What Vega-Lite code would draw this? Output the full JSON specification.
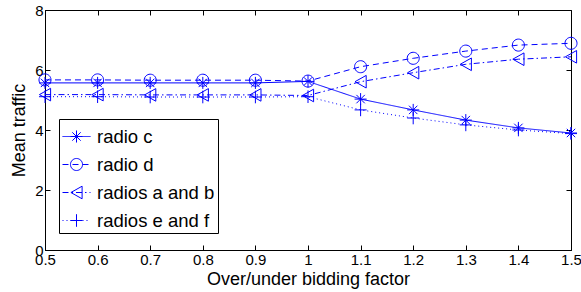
{
  "$schema": "https://vega.github.io/schema/vega-lite/v6.json",
  "width": 526,
  "height": 240,
  "autosize": "none",
  "padding": {"left": 45, "top": 10, "right": 10, "bottom": 42},
  "background": "white",
  "config": {
    "font": "Liberation Sans",
    "view": {"stroke": "black", "strokeWidth": 1},
    "axis": {
      "grid": false,
      "domainColor": "black",
      "tickColor": "black",
      "labelColor": "black",
      "titleColor": "black",
      "labelFont": "Liberation Sans",
      "titleFont": "Liberation Sans",
      "labelFontSize": 15,
      "titleFontSize": 18,
      "titleFontWeight": "normal",
      "tickSize": -5
    }
  },
  "data": {
    "values": [
      {"x": 0.5, "series": "radio c", "y": 5.57},
      {"x": 0.6, "series": "radio c", "y": 5.57},
      {"x": 0.7, "series": "radio c", "y": 5.57},
      {"x": 0.8, "series": "radio c", "y": 5.57},
      {"x": 0.9, "series": "radio c", "y": 5.57},
      {"x": 1.0, "series": "radio c", "y": 5.62},
      {"x": 1.1, "series": "radio c", "y": 5.03},
      {"x": 1.2, "series": "radio c", "y": 4.67},
      {"x": 1.3, "series": "radio c", "y": 4.33},
      {"x": 1.4, "series": "radio c", "y": 4.07},
      {"x": 1.5, "series": "radio c", "y": 3.9},
      {"x": 0.5, "series": "radio d", "y": 5.67},
      {"x": 0.6, "series": "radio d", "y": 5.67},
      {"x": 0.7, "series": "radio d", "y": 5.66},
      {"x": 0.8, "series": "radio d", "y": 5.66},
      {"x": 0.9, "series": "radio d", "y": 5.66},
      {"x": 1.0, "series": "radio d", "y": 5.63},
      {"x": 1.1, "series": "radio d", "y": 6.11},
      {"x": 1.2, "series": "radio d", "y": 6.39},
      {"x": 1.3, "series": "radio d", "y": 6.63},
      {"x": 1.4, "series": "radio d", "y": 6.83},
      {"x": 1.5, "series": "radio d", "y": 6.89},
      {"x": 0.5, "series": "radios a and b", "y": 5.18},
      {"x": 0.6, "series": "radios a and b", "y": 5.18},
      {"x": 0.7, "series": "radios a and b", "y": 5.17},
      {"x": 0.8, "series": "radios a and b", "y": 5.17},
      {"x": 0.9, "series": "radios a and b", "y": 5.17},
      {"x": 1.0, "series": "radios a and b", "y": 5.15},
      {"x": 1.1, "series": "radios a and b", "y": 5.61},
      {"x": 1.2, "series": "radios a and b", "y": 5.91},
      {"x": 1.3, "series": "radios a and b", "y": 6.19},
      {"x": 1.4, "series": "radios a and b", "y": 6.36},
      {"x": 1.5, "series": "radios a and b", "y": 6.44},
      {"x": 0.5, "series": "radios e and f", "y": 5.11},
      {"x": 0.6, "series": "radios e and f", "y": 5.11},
      {"x": 0.7, "series": "radios e and f", "y": 5.1},
      {"x": 0.8, "series": "radios e and f", "y": 5.1},
      {"x": 0.9, "series": "radios e and f", "y": 5.1},
      {"x": 1.0, "series": "radios e and f", "y": 5.11},
      {"x": 1.1, "series": "radios e and f", "y": 4.67},
      {"x": 1.2, "series": "radios e and f", "y": 4.4},
      {"x": 1.3, "series": "radios e and f", "y": 4.17},
      {"x": 1.4, "series": "radios e and f", "y": 4.0},
      {"x": 1.5, "series": "radios e and f", "y": 3.88}
    ]
  },
  "layer": [
    {
      "mark": {"type": "line", "color": "#0000ff", "strokeWidth": 1},
      "encoding": {
        "x": {
          "field": "x", "type": "quantitative",
          "scale": {"domain": [0.5, 1.5], "nice": false, "zero": false},
          "axis": {"values": [0.5, 0.6, 0.7, 0.8, 0.9, 1.0, 1.1, 1.2, 1.3, 1.4, 1.5], "format": "~g", "labelPadding": 7, "labelFlush": false, "title": "Over/under bidding factor", "titlePadding": 3}
        },
        "y": {
          "field": "y", "type": "quantitative",
          "scale": {"domain": [0, 8], "nice": false},
          "axis": {"values": [0, 2, 4, 6, 8], "labelPadding": 7, "title": "Mean traffic", "titlePadding": 6}
        },
        "detail": {"field": "series"},
        "strokeDash": {
          "field": "series", "type": "nominal",
          "scale": {"range": [[1, 0], [6, 4], [6, 3, 1.5, 3], [1, 3]]},
          "legend": {
            "orient": "none", "legendX": 14, "legendY": 109,
            "title": null, "symbolType": "stroke", "symbolSize": 784,
            "symbolStrokeWidth": 1, "symbolStrokeColor": "#0000ff",
            "labelFontSize": 18.5, "labelFont": "Liberation Sans", "labelColor": "black",
            "labelOffset": 6, "labelLimit": 400, "rowPadding": 4, "padding": 3,
            "strokeColor": "black", "fillColor": "white", "zindex": 0
          }
        }
      }
    },
    {
      "mark": {"type": "point", "color": "#0000ff", "filled": false, "strokeWidth": 1, "size": 784, "opacity": 1},
      "encoding": {
        "x": {"field": "x", "type": "quantitative", "axis": {"orient": "top", "labels": false, "title": null, "domain": false, "values": [0.5, 0.6, 0.7, 0.8, 0.9, 1.0, 1.1, 1.2, 1.3, 1.4, 1.5]}},
        "y": {"field": "y", "type": "quantitative", "axis": {"orient": "right", "labels": false, "title": null, "domain": false, "values": [0, 2, 4, 6, 8]}},
        "shape": {
          "field": "series", "type": "nominal",
          "scale": {
            "domain": ["radio c", "radio d", "radios a and b", "radios e and f"],
            "range": [
              "M-0.43,0L0.43,0M0,-0.43L0,0.43M-0.3,-0.3L0.3,0.3M-0.3,0.3L0.3,-0.3",
              "M-0.43,0A0.43,0.43,0,1,1,0.43,0A0.43,0.43,0,1,1,-0.43,0Z",
              "M-0.4,0L0.4,-0.45L0.4,0.45Z",
              "M-0.43,0L0.43,0M0,-0.45L0,0.45"
            ]
          },
          "legend": {
            "orient": "none", "legendX": 14, "legendY": 109,
            "title": null, "symbolSize": 784,
            "symbolStrokeWidth": 1, "symbolStrokeColor": "#0000ff", "symbolFillColor": "transparent",
            "labelFontSize": 18.5, "labelFont": "Liberation Sans", "labelOpacity": 0,
            "labelOffset": 6, "labelLimit": 400, "rowPadding": 4, "padding": 3, "zindex": 1
          }
        }
      }
    }
  ],
  "resolve": {"axis": {"x": "independent", "y": "independent"}}
}
